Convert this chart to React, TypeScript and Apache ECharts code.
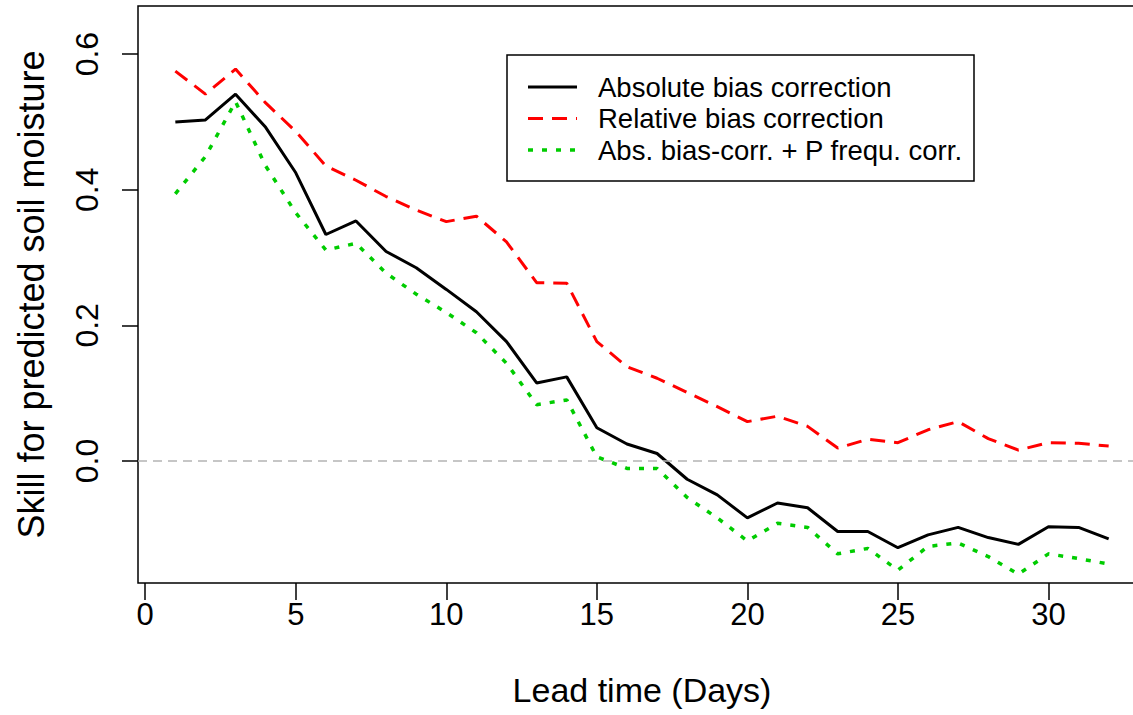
import React, { useEffect, useRef } from "react";
import * as echarts from "echarts";

// Lead time in days
const days = [
  1, 2, 3, 4, 5, 6, 7, 8, 9, 10, 11, 12, 13, 14, 15, 16,
  17, 18, 19, 20, 21, 22, 23, 24, 25, 26, 27, 28, 29, 30, 31, 32,
];

// Skill scores for predicted soil moisture
const absoluteBias = [
  0.5, 0.503, 0.541, 0.492, 0.425, 0.334, 0.354, 0.309, 0.285, 0.253, 0.22, 0.176, 0.115, 0.124, 0.049, 0.025,
  0.011, -0.027, -0.05, -0.084, -0.062, -0.069, -0.104, -0.104, -0.128, -0.109, -0.098, -0.113, -0.123, -0.097, -0.098, -0.115,
];
const relativeBias = [
  0.575, 0.541, 0.578, 0.528, 0.486, 0.435, 0.414, 0.39, 0.37, 0.353, 0.361, 0.323, 0.263, 0.262, 0.176, 0.139,
  0.122, 0.101, 0.08, 0.058, 0.066, 0.051, 0.019, 0.032, 0.027, 0.046, 0.058, 0.033, 0.016, 0.027, 0.026, 0.022,
];
const absBiasPFreq = [
  0.394, 0.449, 0.53, 0.435, 0.366, 0.311, 0.321, 0.277, 0.246, 0.219, 0.189, 0.144, 0.083, 0.09, 0.006, -0.011,
  -0.011, -0.054, -0.084, -0.118, -0.092, -0.098, -0.137, -0.129, -0.161, -0.126, -0.121, -0.141, -0.167, -0.137, -0.144, -0.152,
];

const xTicks = [0, 5, 10, 15, 20, 25, 30];
const yTicks = [0, 0.2, 0.4, 0.6];

const seriesNames = [
  "Absolute bias correction",
  "Relative bias correction",
  "Abs. bias-corr. + P frequ. corr.",
];

const FONT = "'Liberation Sans', Arial, sans-serif";

const pairs = (vals: number[]) => days.map((d, i) => [d, vals[i]]);

export default function App() {
  const ref = useRef<HTMLDivElement>(null);

  useEffect(() => {
    if (!ref.current) return;
    const chart = echarts.init(ref.current, undefined, { renderer: "svg" });

    const legendLeft = 507;
    const legendTop = 55;
    const rowY = [87, 118.5, 150];
    const legendStyles = [
      { stroke: "#000", lineWidth: 3 },
      { stroke: "#ff0000", lineWidth: 3, lineDash: [15, 9] },
      { stroke: "#00cc00", lineWidth: 3.5, lineDash: [5, 9] },
    ];

    chart.setOption({
      animation: false,
      backgroundColor: "#fff",
      grid: {
        left: 138,
        top: 6,
        width: 1008,
        height: 577,
        containLabel: false,
        outerBoundsMode: "none",
        show: true,
        borderColor: "#000",
        borderWidth: 1.5,
        backgroundColor: "transparent",
      },
      xAxis: {
        type: "value",
        min: -0.24,
        max: 33.24,
        name: "Lead time (Days)",
        nameLocation: "middle",
        nameGap: 90,
        nameTextStyle: { fontFamily: FONT, fontSize: 34, color: "#000" },
        axisLine: { show: false, onZero: false },
        axisTick: {
          show: true,
          length: 17,
          customValues: xTicks,
          lineStyle: { color: "#000", width: 1.5 },
        },
        axisLabel: {
          customValues: xTicks,
          margin: 16,
          fontFamily: FONT,
          fontSize: 31,
          color: "#000",
        },
        splitLine: { show: false },
      },
      yAxis: {
        type: "value",
        min: -0.18,
        max: 0.671,
        name: "Skill for predicted soil moisture",
        nameLocation: "middle",
        nameGap: 89,
        nameTextStyle: { fontFamily: FONT, fontSize: 36, color: "#000" },
        axisLine: { show: false, onZero: false },
        axisTick: {
          show: true,
          length: 16,
          customValues: yTicks,
          lineStyle: { color: "#000", width: 1.5 },
        },
        axisLabel: {
          customValues: yTicks,
          rotate: 90,
          margin: 35,
          fontFamily: FONT,
          fontSize: 32,
          color: "#000",
          formatter: (v: number) => v.toFixed(1),
        },
        splitLine: { show: false },
      },
      series: [
        {
          name: seriesNames[0],
          type: "line",
          data: pairs(absoluteBias),
          showSymbol: false,
          symbol: "none",
          lineStyle: { color: "#000", width: 3 },
          z: 3,
          markLine: {
            silent: true,
            symbol: "none",
            label: { show: false },
            lineStyle: { color: "#b4b4b4", type: [9, 6], width: 1.5 },
            data: [{ yAxis: 0 }],
          },
        },
        {
          name: seriesNames[1],
          type: "line",
          data: pairs(relativeBias),
          showSymbol: false,
          symbol: "none",
          lineStyle: { color: "#ff0000", width: 3, type: [15, 9] },
          z: 2,
        },
        {
          name: seriesNames[2],
          type: "line",
          data: pairs(absBiasPFreq),
          showSymbol: false,
          symbol: "none",
          lineStyle: { color: "#00cc00", width: 3.5, type: [5, 9] },
          z: 2,
        },
      ],
      graphic: [
        {
          type: "rect",
          shape: { x: legendLeft, y: legendTop, width: 467, height: 126 },
          style: { fill: "#fff", stroke: "#000", lineWidth: 1.5 },
          z: 10,
        },
        ...seriesNames.flatMap((name, i) => [
          {
            type: "line",
            shape: { x1: 528, y1: rowY[i], x2: 577, y2: rowY[i] },
            style: legendStyles[i],
            z: 11,
          },
          {
            type: "text",
            x: 598,
            y: rowY[i],
            style: {
              text: name,
              fontFamily: FONT,
              fontSize: 27.5,
              fill: "#000",
              verticalAlign: "middle",
              textAlign: "left",
            },
            z: 11,
          },
        ]),
      ],
    });

    return () => chart.dispose();
  }, []);

  return (
    <div
      ref={ref}
      style={{
        position: "fixed",
        left: 0,
        top: 0,
        width: 1133,
        height: 715,
        background: "#fff",
      }}
    />
  );
}
